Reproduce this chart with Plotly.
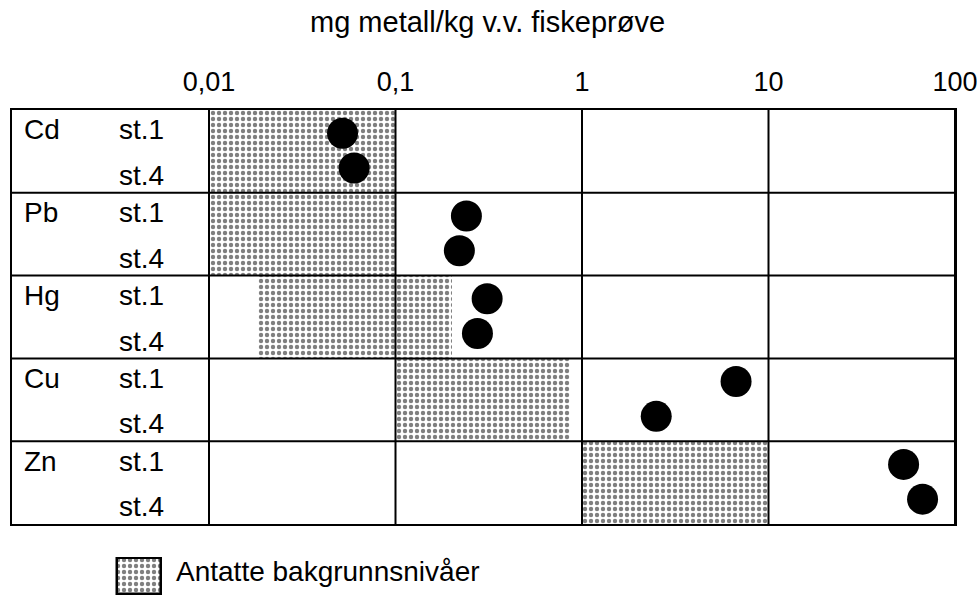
import math
import plotly.graph_objects as go

# ---------------- data ----------------
metals = ["Cd", "Pb", "Hg", "Cu", "Zn"]
stations = ["st.1", "st.4"]
st1_values = [0.052, 0.24, 0.31, 6.7, 53]
st4_values = [0.060, 0.22, 0.275, 2.5, 67]
bg_low = [0.01, 0.01, 0.0184, 0.1, 1.0]
bg_high = [0.1, 0.1, 0.2, 0.86, 10.0]
tick_vals = [0.01, 0.1, 1, 10, 100]
tick_text = ["0,01", "0,1", "1", "10", "100"]
title_text = "mg metall/kg v.v. fiskeprøve"
legend_text = "Antatte bakgrunnsnivåer"

# ---------------- layout constants ----------------
W, H = 977, 597
box_left, box_right, box_top, box_bottom = 12, 955, 110, 524
x0_px = 209  # position of 0,01
decade = (box_right - x0_px) / 4.0
x_min = -2 - (x0_px - box_left) / decade
FONT = "Liberation Sans, Arial, sans-serif"

rows = list(range(len(metals)))
row_c = [r + 0.5 for r in rows]

fig = go.Figure()

pattern = dict(shape=".", fgcolor="black", bgcolor="white", size=6, solidity=0.42)

# background levels (stippled)
fig.add_trace(go.Bar(
    orientation="h",
    y=row_c,
    base=bg_low,
    x=[h - l for l, h in zip(bg_low, bg_high)],
    width=1.0,
    marker=dict(color="white", line=dict(width=0), pattern=pattern),
    showlegend=False,
    xaxis="x", yaxis="y",
))

# measured values
fig.add_trace(go.Scatter(
    x=st1_values, y=[r + 0.28 for r in rows], mode="markers",
    marker=dict(size=31, color="black"), showlegend=False, cliponaxis=False,
))
fig.add_trace(go.Scatter(
    x=st4_values, y=[r + 0.70 for r in rows], mode="markers",
    marker=dict(size=31, color="black"), showlegend=False, cliponaxis=False,
))

# legend swatch
fig.add_trace(go.Bar(
    orientation="h", y=[0.5], base=[0], x=[1], width=1.0,
    marker=dict(color="white", line=dict(width=2.5, color="black"), pattern=pattern),
    showlegend=False, xaxis="x2", yaxis="y2",
))

shapes = []
for tv in tick_vals:
    shapes.append(dict(type="line", xref="x", yref="y domain",
                       x0=tv, x1=tv, y0=0, y1=1,
                       line=dict(color="black", width=2), layer="above"))
for r in rows[1:]:
    shapes.append(dict(type="line", xref="x domain", yref="y",
                       x0=0, x1=1, y0=r, y1=r,
                       line=dict(color="black", width=2), layer="above"))

annotations = []
for r, m in zip(rows, metals):
    annotations.append(dict(text=m, x=22 / W, xref="paper", xanchor="left",
                            y=r + 0.24, yref="y", showarrow=False,
                            font=dict(size=28, family=FONT, color="black")))
    for s, off in zip(stations, [0.24, 0.79]):
        annotations.append(dict(text=s, x=117 / W, xref="paper", xanchor="left",
                                y=r + off, yref="y", showarrow=False,
                                font=dict(size=28, family=FONT, color="black")))

annotations.append(dict(text=title_text, x=487 / W, xref="paper", xanchor="center",
                        y=1 - 22 / H, yref="paper", yanchor="middle", showarrow=False,
                        font=dict(size=29, family=FONT, color="black")))
annotations.append(dict(text=legend_text, x=174 / W, xref="paper", xanchor="left",
                        y=1 - 571 / H, yref="paper", yanchor="middle", showarrow=False,
                        font=dict(size=28, family=FONT, color="black")))

fig.update_layout(
    width=W, height=H,
    margin=dict(l=0, r=0, t=0, b=0),
    paper_bgcolor="white", plot_bgcolor="white",
    font=dict(family=FONT, color="black"),
    bargap=0,
    xaxis=dict(
        type="log", range=[x_min, 2],
        domain=[box_left / W, box_right / W],
        side="top", tickvals=tick_vals, ticktext=tick_text,
        ticks="", showgrid=False, zeroline=False,
        showline=True, mirror=True, linecolor="black", linewidth=2,
        tickfont=dict(size=27, family=FONT, color="black"),
        ticklabelstandoff=6,
        ticklabeloverflow="allow",
        automargin=False,
    ),
    yaxis=dict(
        range=[len(metals), 0],
        domain=[1 - box_bottom / H, 1 - box_top / H],
        showticklabels=False, ticks="", showgrid=False, zeroline=False,
        showline=True, mirror=True, linecolor="black", linewidth=2,
        automargin=False,
    ),
    xaxis2=dict(domain=[115 / W, 163 / W], range=[-0.04, 1.04], visible=False,
                anchor="y2", fixedrange=True),
    yaxis2=dict(domain=[1 - 595 / H, 1 - 557 / H], range=[-0.04, 1.04], visible=False,
                anchor="x2", fixedrange=True),
    shapes=shapes,
    annotations=annotations,
)

fig.write_html(
    "out.html",
    config={"displayModeBar": False},
    post_script="document.body.style.margin='0';document.body.style.overflow='hidden';",
)
